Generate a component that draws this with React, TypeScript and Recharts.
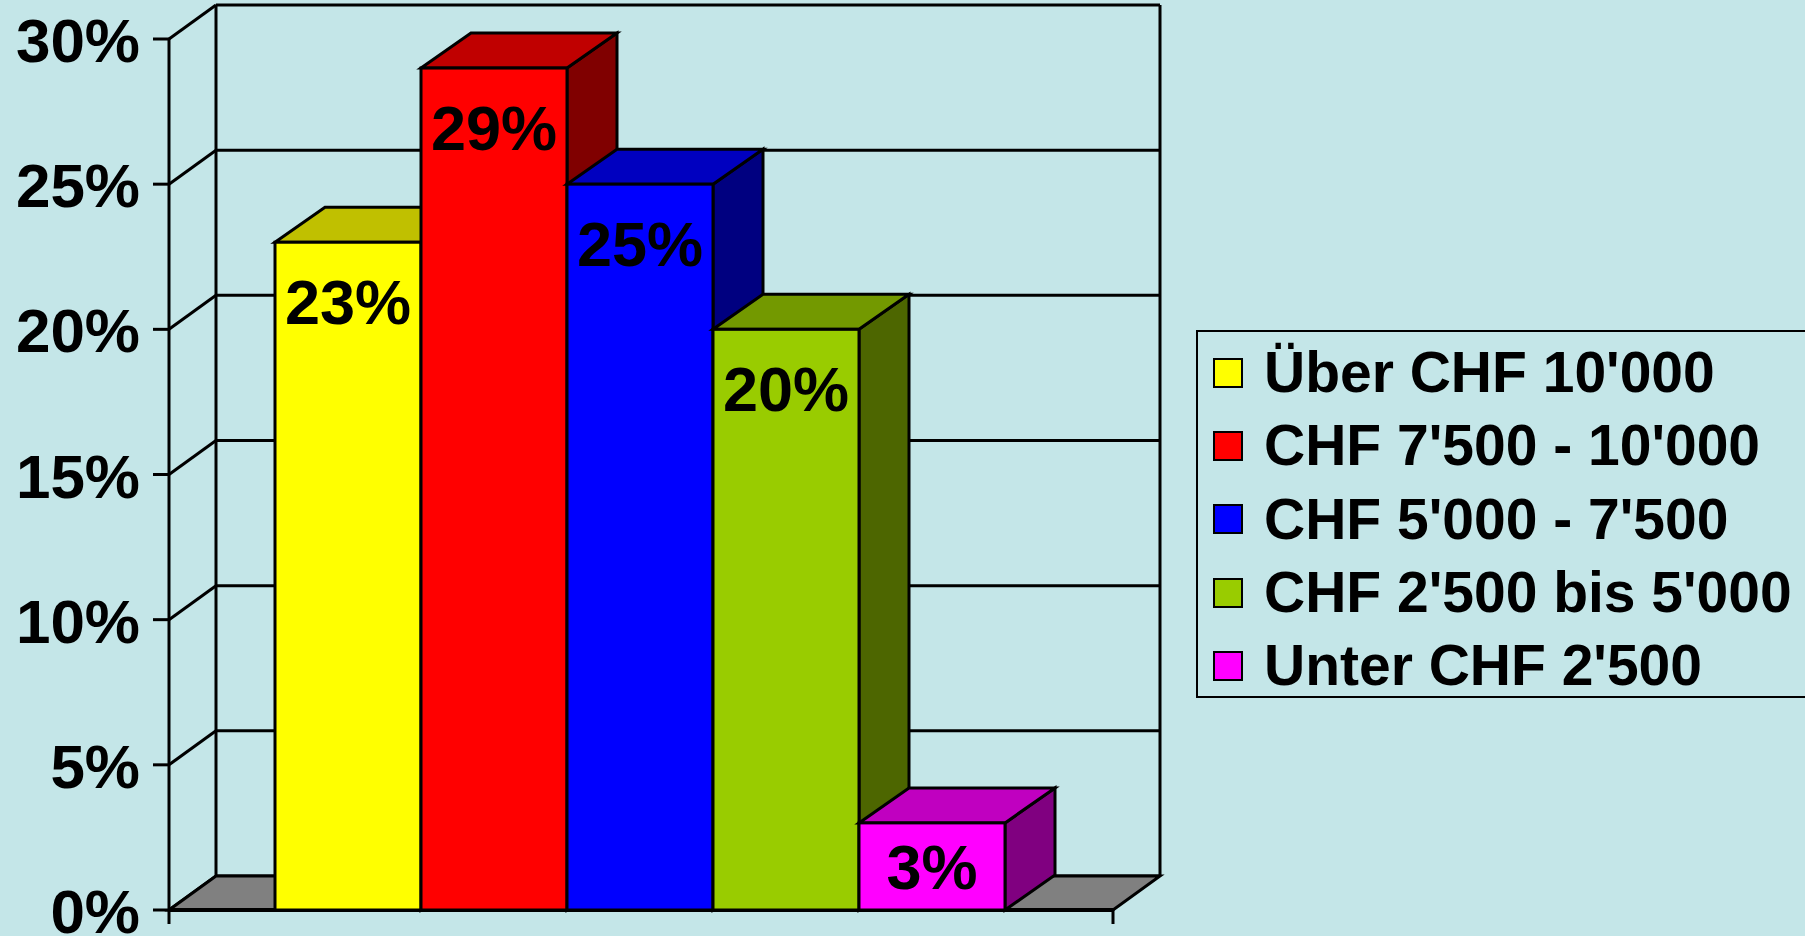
import React from "react";
import {
  BarChart,
  Bar,
  XAxis,
  YAxis,
  CartesianGrid,
  Legend,
} from "recharts";

// --- data ---
const categories = ["Einkommen"];
const seriesNames = [
  "Über CHF 10'000",
  "CHF 7'500 - 10'000",
  "CHF 5'000 - 7'500",
  "CHF 2'500 bis 5'000",
  "Unter CHF 2'500",
];
const seriesValues = [23, 29, 25, 20, 3];
const yTicks = [0, 5, 10, 15, 20, 25, 30];

const frontColors = ["#FFFF00", "#FF0000", "#0000FF", "#99CC00", "#FF00FF"];
const topColors = ["#C0C000", "#C00000", "#0000C0", "#739900", "#C000C0"];
const sideColors = ["#808000", "#800000", "#000080", "#4D6600", "#800080"];

const BG = "#C4E6E8";
const FONT = "'Liberation Sans', Arial, Helvetica, sans-serif";

// 3d offsets
const WALL_DX = 47;
const WALL_DY = 34;
const BAR_DX = 50;
const BAR_DY = 35;
const LINE_W = 3;

const chartData = categories.map((name) => {
  const row: Record<string, string | number> = { name };
  seriesValues.forEach((v, i) => {
    row[`s${i}`] = v;
  });
  return row;
});

const renderGridLine = (p: any) => {
  const { x1, x2, y1, index } = p;
  const bottom = Number(p.y) + Number(p.height);
  const top = Number(p.y);
  const isFloor = Math.abs(y1 - bottom) < 0.5;
  return (
    <g key={`grid-${index}`}>
      <line x1={x1} y1={y1} x2={x1 + WALL_DX} y2={y1 - WALL_DY} stroke="#000" strokeWidth={LINE_W} />
      <line
        x1={x1 + WALL_DX}
        y1={y1 - WALL_DY}
        x2={x2 + WALL_DX}
        y2={y1 - WALL_DY}
        stroke="#000"
        strokeWidth={LINE_W}
      />
      {isFloor && (
        <g>
          <line x1={x1 + WALL_DX} y1={top - WALL_DY} x2={x1 + WALL_DX} y2={bottom - WALL_DY} stroke="#000" strokeWidth={LINE_W} />
          <line x1={x2 + WALL_DX} y1={top - WALL_DY} x2={x2 + WALL_DX} y2={bottom - WALL_DY} stroke="#000" strokeWidth={LINE_W} />
          <polygon
            points={`${x1},${bottom} ${x2},${bottom} ${x2 + WALL_DX},${bottom - WALL_DY} ${x1 + WALL_DX},${bottom - WALL_DY}`}
            fill="#808080"
            stroke="#000"
            strokeWidth={LINE_W}
            strokeLinejoin="miter"
          />
          <line x1={x1} y1={bottom} x2={x2} y2={bottom} stroke="#000" strokeWidth={4} />
          <line x1={x1} y1={bottom} x2={x1} y2={bottom + 14} stroke="#000" strokeWidth={LINE_W} />
          <line x1={x2} y1={bottom} x2={x2} y2={bottom + 14} stroke="#000" strokeWidth={LINE_W} />
        </g>
      )}
    </g>
  );
};

const makeBoxShape = (i: number) => (p: any) => {
  const x = Number(p.x);
  const y = Number(p.y);
  const w = Number(p.width);
  const h = Number(p.height);
  return (
    <g>
      <polygon
        points={`${x + w},${y} ${x + w + BAR_DX},${y - BAR_DY} ${x + w + BAR_DX},${y + h - BAR_DY} ${x + w},${y + h}`}
        fill={sideColors[i]}
        stroke="#000"
        strokeWidth={LINE_W}
        strokeLinejoin="miter"
      />
      <polygon
        points={`${x},${y} ${x + BAR_DX},${y - BAR_DY} ${x + w + BAR_DX},${y - BAR_DY} ${x + w},${y}`}
        fill={topColors[i]}
        stroke="#000"
        strokeWidth={LINE_W}
        strokeLinejoin="miter"
      />
      <rect x={x} y={y} width={w} height={h} fill={frontColors[i]} stroke="#000" strokeWidth={LINE_W} />
    </g>
  );
};

const renderValueLabel = (p: any) => {
  const x = Number(p.x);
  const y = Number(p.y);
  const w = Number(p.width);
  const h = Number(p.height);
  const dy = Math.min(82, h / 2 + 23);
  return (
    <text
      x={x + w / 2}
      y={y + dy}
      textAnchor="middle"
      fontFamily={FONT}
      fontWeight="bold"
      fontSize={63}
      fill="#000"
    >
      {`${p.value}%`}
    </text>
  );
};

const renderYTick = (p: any) => (
  <text
    x={p.x}
    y={p.y + 23}
    textAnchor="end"
    fontFamily={FONT}
    fontWeight="bold"
    fontSize={62}
    fill="#000"
  >
    {`${p.payload.value}%`}
  </text>
);

const seriesIndex = (entry: any) => {
  const k = String(entry.dataKey ?? "");
  const n = parseInt(k.replace("s", ""), 10);
  return Number.isNaN(n) ? seriesNames.indexOf(entry.value) : n;
};

const renderLegend = (props: any) => {
  const items = [...(props.payload || [])].sort((a, b) => seriesIndex(a) - seriesIndex(b));
  return (
    <div
      style={{
        boxSizing: "border-box",
        width: 700,
        height: 368,
        border: "2px solid #000",
        paddingTop: 4,
        background: BG,
      }}
    >
      {items.map((entry: any, i: number) => (
        <div key={`leg-${i}`} style={{ display: "flex", alignItems: "center", height: 73.3 }}>
          <span
            style={{
              boxSizing: "border-box",
              width: 30,
              height: 30,
              marginLeft: 15,
              marginRight: 21,
              border: "2px solid #000",
              background: entry.color,
              flex: "none",
            }}
          />
          <span
            style={{
              fontFamily: FONT,
              fontWeight: "bold",
              fontSize: 57,
              lineHeight: 1,
              color: "#000",
              whiteSpace: "nowrap",
            }}
          >
            {entry.value}
          </span>
        </div>
      ))}
    </div>
  );
};

export default function App() {
  return (
    <div
      style={{
        position: "absolute",
        left: 0,
        top: 0,
        width: 1805,
        height: 936,
        overflow: "hidden",
        background: BG,
      }}
    >
      <BarChart
        width={1805}
        height={936}
        data={chartData}
        margin={{ top: 39, right: 692, bottom: 26, left: 0 }}
        barCategoryGap={106}
        barGap={0}
      >
        <CartesianGrid horizontal={renderGridLine} vertical={false} stroke="#000" />
        <XAxis dataKey="name" hide />
        <YAxis
          domain={[0, 30]}
          ticks={yTicks}
          width={169}
          tickSize={16}
          tickMargin={13}
          axisLine={{ stroke: "#000", strokeWidth: LINE_W }}
          tickLine={{ stroke: "#000", strokeWidth: LINE_W }}
          tick={renderYTick}
          interval={0}
        />
        <Legend
          layout="vertical"
          align="center"
          verticalAlign="middle"
          content={renderLegend}
          wrapperStyle={{ left: 1196, top: 330, width: 700, height: 368 }}
        />
        {seriesNames.map((name, i) => (
          <Bar
            key={name}
            dataKey={`s${i}`}
            name={name}
            fill={frontColors[i]}
            shape={makeBoxShape(i)}
            label={renderValueLabel}
            isAnimationActive={false}
          />
        ))}
      </BarChart>
    </div>
  );
}
